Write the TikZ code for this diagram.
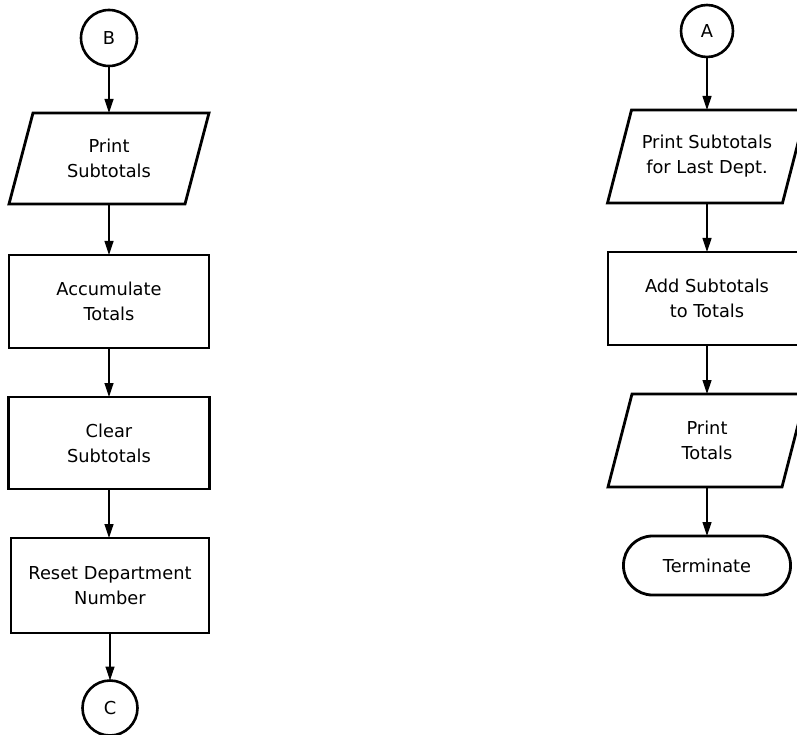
\documentclass[tikz,border=0pt]{standalone}
\usepackage{fontspec}
\setmainfont{DejaVu Sans}
\usetikzlibrary{arrows.meta}

\tikzset{
  every node/.style={outer sep=0pt, inner sep=0pt, align=center,
    font=\fontsize{17.8}{25}\selectfont},
  frame/.style={line width=2.8pt, line join=miter},
  connector/.style={circle, draw, line width=2.6pt},
  procbox/.style={rectangle, draw, line width=2.8pt},
  iobox/.style={rectangle, draw=none},
  termbox/.style={rectangle, draw, line width=2.8pt, rounded corners=29pt,
    minimum width=167pt, minimum height=59pt},
  flow/.style={line width=1.2pt, -{Triangle[length=14pt,width=9pt]}},
}

% parallelogram outline around a borderless node
\newcommand\ioframe[1]{%
  \draw[frame] ([xshift=12pt]#1.north west) -- ([xshift=12pt]#1.north east)
    -- ([xshift=-12pt]#1.south east) -- ([xshift=-12pt]#1.south west) -- cycle;}

\begin{document}
\begin{tikzpicture}[x=1pt, y=-1pt]
\useasboundingbox (0,0) rectangle (797,735);
\clip (0,0) rectangle (797,735);

% left column
\node[connector, minimum size=56pt] (B) at (109,38) {B};
\node[iobox, minimum width=176pt, minimum height=91pt] (ps) at (109,158.5) {Print\\Subtotals};
\ioframe{ps}
\node[procbox, minimum width=200pt, minimum height=93pt] (acc) at (109,301.5) {Accumulate\\Totals};
\node[procbox, minimum width=201pt, minimum height=92pt] (clr) at (109,443) {Clear\\Subtotals};
\node[procbox, minimum width=198pt, minimum height=95pt] (rst) at (110,585.5) {Reset Department\\Number};
\node[connector, minimum size=55pt] (C) at (110,708) {C};

\draw[flow] (B) -- (ps);
\draw[flow] (ps) -- (acc);
\draw[flow] (acc) -- (clr);
\draw[flow] (clr.south) -- (clr.south |- rst.north);
\draw[flow] (rst) -- (C);

% right column
\node[connector, minimum size=52pt] (A) at (707,31) {A};
\node[iobox, minimum width=175pt, minimum height=93pt] (psl) at (707,156.5) {Print Subtotals\\for Last Dept.};
\ioframe{psl}
\node[procbox, minimum width=198pt, minimum height=93pt] (add) at (707,298.5) {Add Subtotals\\to Totals};
\node[iobox, minimum width=174pt, minimum height=93pt] (pt) at (707,440.5) {Print\\Totals};
\ioframe{pt}
\node[termbox] (term) at (707,565.5) {Terminate};

\draw[flow] (A) -- (psl);
\draw[flow] (psl) -- (add);
\draw[flow] (add) -- (pt);
\draw[flow] (pt) -- (term);
\end{tikzpicture}
\end{document}
